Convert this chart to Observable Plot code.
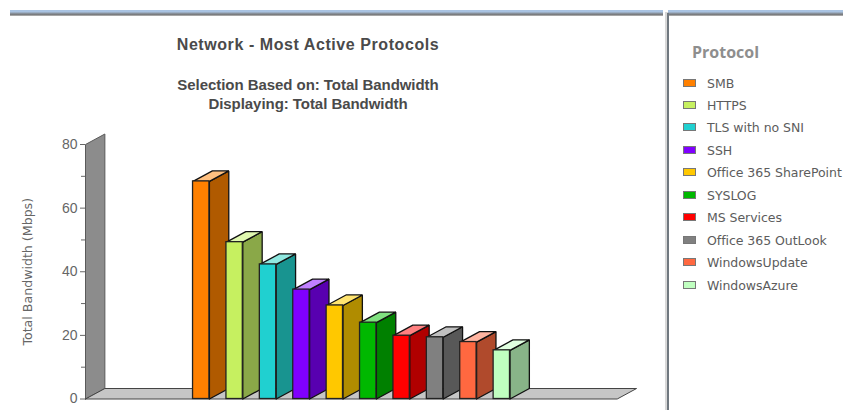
<!DOCTYPE html>
<html><head><meta charset="utf-8">
<script src="https://cdn.jsdelivr.net/npm/d3@7"></script>
<script src="https://cdn.jsdelivr.net/npm/@observablehq/plot@0.6"></script>
<style>
html,body{margin:0;padding:0;background:#fff;overflow:hidden}
#page{position:relative;width:843px;height:410px;overflow:hidden}
#chart{position:absolute;left:0;top:0}
.band{position:absolute;top:10px;height:6px;background:linear-gradient(#a9c3e2 0,#a9c3e2 33%,#8e9aa8 50%,#777 80%,#c8c8c8 100%)}
#b1{left:10px;width:653px}
#b2{left:668px;width:175px}
#div1{position:absolute;left:665px;top:12px;width:3px;height:398px;background:#d8d8d8}
#div2{position:absolute;left:667px;top:13px;width:2px;height:397px;background:#70787f}
.title{position:absolute;left:8px;width:600px;text-align:center;font-family:"Liberation Sans",Arial,sans-serif;font-weight:bold;color:#4a4a4a;white-space:nowrap}
#t1{top:36px;font-size:16px;letter-spacing:.57px}
#t2{top:75px;font-size:15px;line-height:19px;letter-spacing:-.05px}
#lt{position:absolute;left:692px;top:41px;font:bold 16px "Open Sans",sans-serif;color:#8e8e8e}
.li{position:absolute;left:683px;white-space:nowrap;font:12.5px "DejaVu Sans",sans-serif;color:#5c5c5c;letter-spacing:-.04px;height:16px;line-height:16px}
.li i{position:absolute;left:0;top:3px;width:11px;height:6px;border:1px solid #777}
.li span{position:absolute;left:24px;top:0}
</style></head><body>
<div id="page"><div id="chart"></div>
<div class="band" id="b1"></div><div class="band" id="b2"></div><div id="div1"></div><div id="div2"></div>
<div class="title" id="t1">Network - Most Active Protocols</div>
<div class="title" id="t2">Selection Based on: Total Bandwidth<br>Displaying: Total Bandwidth</div>
<div id="lt">Protocol</div><div id="legend"></div></div>
<script>
const protocols = ["SMB","HTTPS","TLS with no SNI","SSH","Office 365 SharePoint","SYSLOG","MS Services","Office 365 OutLook","WindowsUpdate","WindowsAzure"];
const bandwidth = [68.4,49.3,42.3,34.4,29.4,24,19.9,19.4,17.9,15.3];
const frontColors = ["#ff8000","#c6f060","#20d0d0","#8000ff","#ffc800","#00b800","#ff0000","#808080","#ff6840","#c0ffc0"];
const sideColors = ["#b05a00","#8aa848","#189490","#5800b0","#b08c00","#008000","#b00000","#585858","#b04a2c","#88b488"];
const topColors = ["#ffc080","#e0f8b0","#90e8e0","#c080ff","#ffe470","#80e080","#ff8080","#c0c0c0","#ffb4a0","#e0ffe0"];
const yTicks = [0,20,40,60,80];
const yMinorTicks = [10,30,50,70];

const depthX = 0.58, depthY = 3.3, barW = 0.49, xMin = -3.22, xMax = 12.7;
const poly = pts => pts.map(([x,y]) => ({x,y}));
const face = (pts, fill, stroke, strokeWidth=1.3) =>
  Plot.line([...poly(pts), poly(pts)[0]], {x:"x", y:"y", fill, stroke, strokeWidth, strokeLinejoin:"miter"});

const marks = [
  face([[xMin,0],[xMin+depthX,depthY],[xMin+depthX,80+depthY],[xMin,80]], "#8c8c8c", "#5a5a5a", 1),
  face([[xMin,0],[xMax,0],[xMax+depthX,depthY],[xMin+depthX,depthY]], "#c6c6c6", "#444", 1),
  Plot.axisY({ticks:yTicks, tickSize:5, tickPadding:3, fontSize:14, fontFamily:"Liberation Sans, Arial, sans-serif", color:"#666", label:"Total Bandwidth (Mbps)", labelAnchor:"center", labelArrow:"none", labelOffset:62}),
  Plot.axisY({ticks:yMinorTicks, tickSize:4, tickFormat:()=>"", color:"#666", label:null})
];
protocols.forEach((p,i) => {
  const x0 = i, x1 = i + barW, v = bandwidth[i];
  marks.push(
    face([[x1,0],[x1+depthX,depthY],[x1+depthX,v+depthY],[x1,v]], sideColors[i], "#111"),
    face([[x0,v],[x1,v],[x1+depthX,v+depthY],[x0+depthX,v+depthY]], topColors[i], "#111"),
    Plot.rect([v], {x1:x0, x2:x1, y1:0, y2:d=>d, fill:frontColors[i], stroke:"#222", strokeWidth:1.3})
  );
});
const plot = Plot.plot({
  width:665, height:410, marginLeft:85, marginRight:48.3, marginTop:144, marginBottom:11.5,
  style:{background:"transparent", overflow:"visible"},
  x:{domain:[xMin,xMax], axis:null},
  y:{domain:[0,80]},
  marks
});
document.getElementById("chart").append(plot);
plot.querySelectorAll('[aria-label="y-axis label"] text, [aria-label="y-axis label"]').forEach(e=>{e.setAttribute("font-size","12.6");e.setAttribute("font-family","DejaVu Sans, sans-serif")});

const legendTops = [75,97,119,142,164,187,209,232,254,277];
const lg = document.getElementById("legend");
protocols.forEach((p,i)=>{
  const d=document.createElement("div");d.className="li";d.style.top=(legendTops[i]+0.5)+"px";
  const s=document.createElement("i");s.style.background=frontColors[i];
  const t=document.createElement("span");t.textContent=p;
  d.append(s,t);lg.append(d);
});
</script></body></html>
